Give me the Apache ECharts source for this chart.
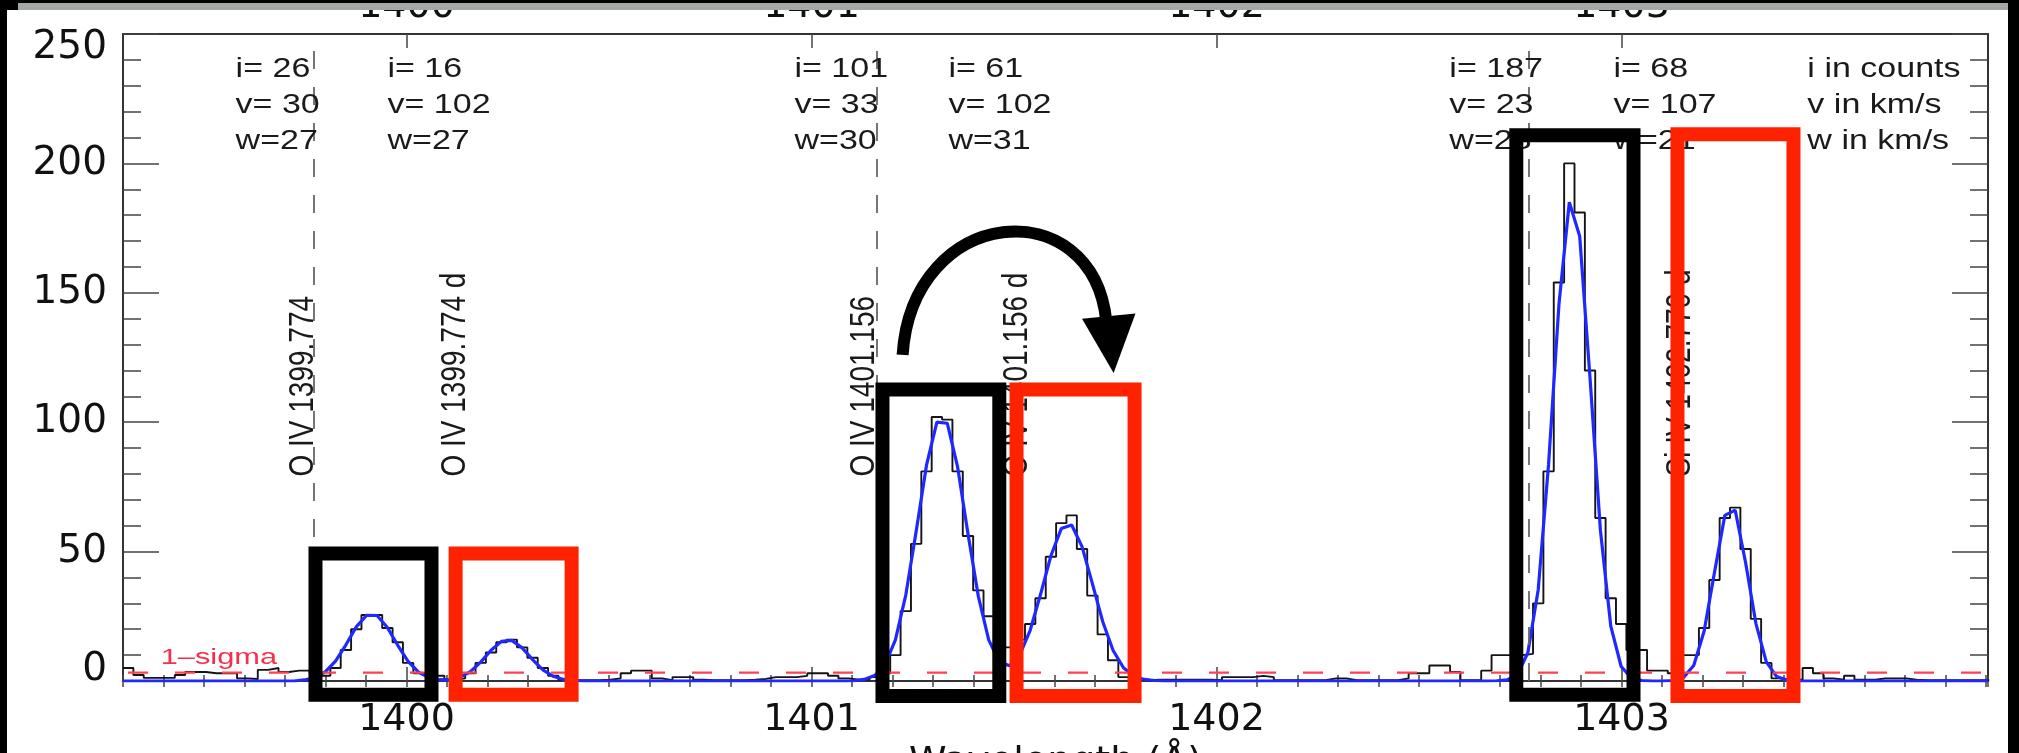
<!DOCTYPE html>
<html>
<head>
<meta charset="utf-8">
<title>O IV / Si IV line fit</title>
<script src="https://cdn.jsdelivr.net/npm/echarts@6/dist/echarts.min.js"></script>
<style>
  html, body { margin: 0; padding: 0; background: #fff; }
  #chart { width: 2019px; height: 753px; }
</style>
</head>
<body>
<div id="chart"></div>
<script>
// spectral grid (Angstrom)
var binStart = 1399.30;
var binWidth = 0.0256;
var xMin = 1399.30, xMax = 1403.905;

// observed counts per bin (black histogram)
var counts = [
  5, 2.3, 1.2, 1.2, 1.2, 2.3, 3.5, 3.5, 3, 3,
  3, 1, 0.8, 4.3, 5, 3.5, 4, 4, 3, 2,
  5, 12, 20, 25.5, 25.5, 20.5, 15, 7, 3, 3.5,
  2, 0.5, 1, 3, 7, 11, 15, 16, 13, 9,
  5, 2, 0.5, 0.3, 0.3, 0.3, 0.5, 1, 3, 4,
  4, 1, 0.3, 1.5, 1.5, 0.5, 0.3, 0.3, 0.3, 0.3,
  0.5, 0.8, 1.5, 1.5, 1.5, 2, 3, 3, 2, 1,
  0.5, 0.5, 1.5, 3, 10, 27, 53, 81, 102, 101,
  81, 56, 35, 25, 13, 13, 16, 22, 32, 48,
  61, 64, 51, 33, 18, 8, 1.5, 0.5, 0.3, 0.5,
  0.5, 0.5, 0.5, 0.5, 0.5, 0.3, 1.5, 1.5, 1.5, 2,
  1.5, 0.3, 0.3, 0.3, 0.3, 0.3, 1, 1, 0.3, 0.3,
  0.3, 0.3, 0.3, 1, 3, 3, 6, 6, 3.5, 0.3,
  0.3, 4, 10, 10, 10, 10.5, 30, 81, 154, 200,
  181, 120, 63, 32, 22, 12, 12, 4, 4, 3,
  10, 10, 20.5, 39, 63, 67, 51, 24, 7, 1,
  0.5, 0.5, 5, 3, 1, 0.5, 2, 0.5, 0.5, 1,
  1, 1, 0.5, 0.3, 0.3, 0.3, 0.3, 0.3, 0.3, 0.3
];

// gaussian fit sampled at bin centres (blue)
var fit = [
  0, 0, 0, 0, 0, 0, 0, 0, 0, 0,
  0, 0, 0, 0, 0, 0, 0, 0.4, 1.3, 3.5,
  7.7, 14.0, 20.9, 25.4, 25.3, 20.7, 13.8, 7.6, 3.4, 1.3,
  0.5, 0.4, 1.4, 3.6, 7.3, 11.9, 15.3, 15.7, 12.8, 8.3,
  4.3, 1.8, 0.6, 0.2, 0, 0, 0, 0, 0, 0,
  0, 0, 0, 0, 0, 0, 0, 0, 0, 0,
  0, 0, 0, 0, 0, 0, 0, 0, 0, 0,
  0.1, 0.6, 2.1, 6.3, 15.9, 33.2, 57.8, 83.4, 100, 99.6,
  82.7, 56.9, 32.7, 15.9, 7.5, 5.9, 10.2, 19.6, 33.5, 48.4,
  58.9, 60.3, 51.9, 37.6, 22.9, 11.8, 5.1, 1.8, 0.6, 0.2,
  0, 0, 0, 0, 0, 0, 0, 0, 0, 0,
  0, 0, 0, 0, 0, 0, 0, 0, 0, 0,
  0, 0, 0, 0, 0, 0, 0, 0, 0, 0,
  0, 0, 0.1, 0.4, 2.5, 10.9, 35.3, 83.8, 145.5, 185,
  171.9, 116.9, 58.2, 21.2, 5.6, 1.1, 0.2, 0, 0, 0.2,
  1.3, 6.0, 19.2, 41.9, 64, 66, 45.8, 22.2, 7.4, 1.7,
  0.3, 0, 0, 0, 0, 0, 0, 0, 0, 0,
  0, 0, 0, 0, 0, 0, 0, 0, 0, 0
];

var sigmaLevel = 3.2;

// rest wavelengths (dashed verticals)
var restLines = [1399.774, 1401.156, 1402.770];

// rotated line ids and the wavelength of their centre
var lineNames = ['O IV 1399.774', 'O IV 1399.774 d', 'O IV 1401.156', 'O IV 1401.156 d', 'Si IV 1402.770 d'];
var lineNamePos = [1399.746, 1400.121, 1401.131, 1401.507, 1403.146];
var lineNameStart = 79;

// fit results per component
var colPos = [1399.578, 1399.953, 1400.958, 1401.338, 1402.575, 1402.980];
var fitI = ['26', '16', '101', '61', '187', '68'];
var fitV = ['30', '102', '33', '102', '23', '107'];
var fitW = ['27', '27', '30', '31', '23', '21'];
var unitsPos = 1403.459;
var textRowCount = 222.5;

// highlight boxes: [lambda from, lambda to, count top, count bottom]
var boxRanges = [
  [1399.758, 1400.079, 52, -8],
  [1400.104, 1400.425, 52, -8],
  [1401.158, 1401.481, 115.3, -8.5],
  [1401.489, 1401.815, 115.3, -8.5],
  [1402.723, 1403.047, 213.6, -8],
  [1403.121, 1403.442, 214, -8.5]
];
var boxColors = ['#000', '#ff2200', '#000', '#ff2200', '#000', '#ff2200'];

// curved arrow between the 1401 boxes (start, ctrl1, ctrl2, end) and its head
var arrowPath = [[1401.225, 126], [1401.249, 184], [1401.694, 190], [1401.728, 139]];
var arrowHead = [[1401.668, 140], [1401.800, 142], [1401.746, 119]];

var axisFont = 'DejaVu Sans';
var textFont = '"Liberation Sans", Arial, sans-serif';

var histData = counts.map(function (c, k) {
  return [binStart + k * binWidth, c];
});
histData.push([binStart + counts.length * binWidth, counts[counts.length - 1]]);

var fitData = [[xMin, 0]];
fit.forEach(function (f, k) {
  fitData.push([binStart + (k + 0.5) * binWidth, f]);
});
fitData.push([xMax, 0]);

var chart = echarts.init(document.getElementById('chart'));

function majorX(pos, showLabels) {
  return {
    type: 'value', position: pos, min: xMin, max: xMax, splitNumber: 4,
    axisLine: { show: true, onZero: false, lineStyle: { color: '#333', width: 2 } },
    axisTick: { inside: true, length: 14, lineStyle: { color: '#444', width: 1.5 } },
    axisLabel: {
      show: showLabels, margin: pos === 'top' ? 8 : 20, fontSize: 38, fontFamily: axisFont,
      color: '#111', showMinLabel: false, showMaxLabel: false,
      formatter: function (v) { return String(Math.round(v)); }
    },
    splitLine: { show: false }
  };
}
function minorX(pos) {
  return {
    type: 'value', position: pos, min: xMin, max: xMax, interval: 0.1,
    axisLine: { show: false },
    axisTick: { inside: true, length: 6, lineStyle: { color: '#444', width: 1.5 } },
    axisLabel: { show: false },
    splitLine: { show: false }
  };
}
function yAx(pos, showLabels) {
  return {
    type: 'value', position: pos, min: 0, max: 250, interval: 50,
    axisLine: { show: true, onZero: false, lineStyle: { color: '#333', width: 2 } },
    axisTick: { inside: true, length: 36, lineStyle: { color: '#444', width: 1.5 } },
    minorTick: { show: true, splitNumber: 5, length: 18, lineStyle: { color: '#444', width: 1.5 } },
    axisLabel: {
      show: showLabels, margin: 16, fontSize: 39, fontFamily: axisFont, color: '#111',
      formatter: function (v) {
        if (v === 250) return '{hi|250}';
        if (v === 0) return '{lo|0}';
        return String(v);
      },
      rich: {
        hi: { fontSize: 39, fontFamily: axisFont, color: '#111', padding: [28, 0, 0, 0] },
        lo: { fontSize: 39, fontFamily: axisFont, color: '#111', padding: [0, 0, 22, 0] }
      }
    },
    splitLine: { show: false }
  };
}

var xBottom = majorX('bottom', true);
xBottom.name = 'Wavelength (Å)';
xBottom.nameLocation = 'middle';
xBottom.nameGap = 58;
xBottom.nameTextStyle = { fontSize: 38, fontFamily: axisFont, color: '#111' };

var option = {
  animation: false,
  backgroundColor: '#fff',
  grid: { left: 123, right: 31, top: 34, bottom: 72, containLabel: false, outerBoundsMode: 'none' },
  xAxis: [xBottom, minorX('bottom'), majorX('top', true), minorX('top')],
  yAxis: [yAx('left', true), yAx('right', false)],
  series: [
    {
      name: 'counts', type: 'line', xAxisIndex: 0, yAxisIndex: 0,
      step: 'end', symbol: 'none', data: histData, z: 3,
      lineStyle: { color: '#141414', width: 1.9 }
    },
    {
      name: 'fit', type: 'line', xAxisIndex: 0, yAxisIndex: 0,
      symbol: 'none', data: fitData, z: 4,
      lineStyle: { color: '#1e28ff', width: 3.2 }
    },
    {
      name: '1-sigma', type: 'line', xAxisIndex: 0, yAxisIndex: 0,
      symbol: 'none', data: [[xMin, sigmaLevel], [xMax, sigmaLevel]], z: 5,
      lineStyle: { color: '#ff4050', width: 2.2, type: [20, 27], dashOffset: -5 },
      markLine: {
        silent: true, symbol: 'none', label: { show: false },
        lineStyle: { color: '#666', width: 1.8, type: [18, 18] },
        data: restLines.map(function (l) { return { xAxis: l }; })
      }
    }
  ]
};
chart.setOption(option);

function px(l, c) {
  return chart.convertToPixel({ xAxisIndex: 0, yAxisIndex: 0 }, [l, c]);
}

var g = [];

// rotated line identifications
lineNames.forEach(function (name, i) {
  var p = px(lineNamePos[i], lineNameStart);
  g.push({
    type: 'text', x: p[0], y: p[1], rotation: Math.PI / 2, scaleY: 1.26, z: 50,
    style: { text: name, font: '28px ' + textFont, fill: '#1a1a1a', align: 'left', verticalAlign: 'middle' }
  });
});

// fit results
colPos.forEach(function (l, i) {
  var p = px(l, textRowCount);
  g.push({
    type: 'text', x: p[0], y: p[1], scaleX: 1.26, z: 50,
    style: {
      text: 'i= ' + fitI[i] + '\nv= ' + fitV[i] + '\nw=' + fitW[i],
      font: '27px ' + textFont, lineHeight: 36, fill: '#1a1a1a', align: 'left', verticalAlign: 'middle'
    }
  });
});
var pu = px(unitsPos, textRowCount);
g.push({
  type: 'text', x: pu[0], y: pu[1], scaleX: 1.26, z: 50,
  style: {
    text: 'i in counts\nv in km/s\nw in km/s',
    font: '27px ' + textFont, lineHeight: 36, fill: '#1a1a1a', align: 'left', verticalAlign: 'middle'
  }
});

// 1-sigma label
var ps = px(1399.393, 8.9);
g.push({
  type: 'text', x: ps[0], y: ps[1], scaleX: 1.4, z: 50,
  style: { text: '1\u2013sigma', font: '22px ' + textFont, fill: '#f5304a', align: 'left', verticalAlign: 'middle' }
});

// highlight boxes
boxRanges.forEach(function (b, i) {
  var p0 = px(b[0], b[2]);
  var p1 = px(b[1], b[3]);
  g.push({
    type: 'rect', z: 100,
    shape: { x: p0[0] + 7, y: p0[1] + 7, width: p1[0] - p0[0] - 14, height: p1[1] - p0[1] - 14 },
    style: { fill: 'none', stroke: boxColors[i], lineWidth: 14 }
  });
});

// arrow
var a = arrowPath.map(function (q) { return px(q[0], q[1]); });
g.push({
  type: 'bezierCurve', z: 100,
  shape: { x1: a[0][0], y1: a[0][1], cpx1: a[1][0], cpy1: a[1][1], cpx2: a[2][0], cpy2: a[2][1], x2: a[3][0], y2: a[3][1] },
  style: { stroke: '#000', lineWidth: 12, fill: 'none' }
});
g.push({
  type: 'polygon', z: 100,
  shape: { points: arrowHead.map(function (q) { return px(q[0], q[1]); }) },
  style: { fill: '#000' }
});

// dark frame around the picture
g.push({ type: 'rect', z: 300, shape: { x: 0, y: 0, width: 2019, height: 3 }, style: { fill: '#000' } });
g.push({ type: 'rect', z: 300, shape: { x: 0, y: 3, width: 2019, height: 7 }, style: { fill: '#a3a7a5' } });
g.push({ type: 'rect', z: 301, shape: { x: 0, y: 0, width: 18, height: 10 }, style: { fill: '#000' } });
g.push({ type: 'rect', z: 301, shape: { x: 0, y: 0, width: 7, height: 753 }, style: { fill: '#000' } });
g.push({ type: 'rect', z: 301, shape: { x: 2008, y: 0, width: 11, height: 753 }, style: { fill: '#000' } });

chart.setOption({ graphic: g });
</script>
</body>
</html>
